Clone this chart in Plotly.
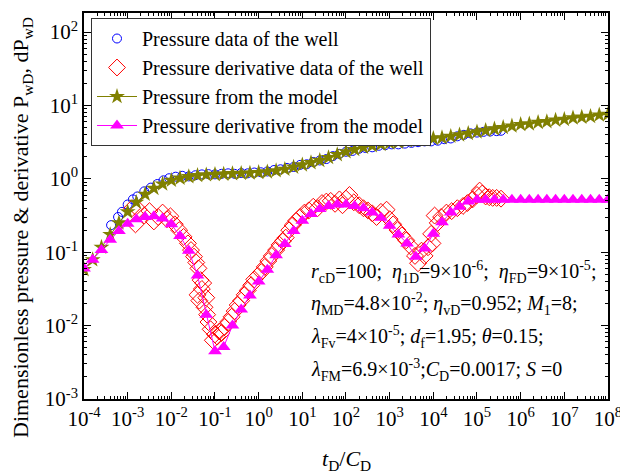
import plotly.graph_objects as go

# ---------------- data ----------------
# Pressure data of the well (blue circles)
t_pw = [4.17e-4, 6.03e-4, 7.41e-4, 1.00e-3, 1.32e-3, 1.66e-3, 2.40e-3, 3.39e-3, 4.79e-3, 6.61e-3,
        8.91e-3, 1.26e-2, 1.78e-2, 2.51e-2, 3.55e-2, 5.01e-2, 7.08e-2, 0.100, 0.141, 0.200,
        0.282, 0.398, 0.562, 0.794, 1.12, 1.58, 2.24, 3.16, 4.47, 6.31,
        8.91, 12.6, 17.8, 25.1, 35.5, 50.1, 70.8, 100, 141, 200,
        282, 398, 562, 794, 1120, 1580, 2240, 3160, 4470, 6310,
        8910, 12600, 17800, 25100, 35500, 50100, 70800, 100000, 141000, 200000,
        282000, 355000]
p_pw = [0.234, 0.302, 0.355, 0.447, 0.525, 0.575, 0.676, 0.759, 0.851, 0.955,
        1.02, 1.07, 1.10, 1.08, 1.12, 1.15, 1.16, 1.15, 1.17, 1.19,
        1.17, 1.20, 1.19, 1.22, 1.23, 1.26, 1.32, 1.35, 1.41, 1.45,
        1.55, 1.58, 1.70, 1.78, 1.86, 2.04, 2.19, 2.34, 2.40, 2.57,
        2.63, 2.69, 2.82, 2.88, 2.95, 2.95, 3.02, 3.09, 3.16, 3.24,
        3.24, 3.31, 3.47, 3.55, 3.80, 3.98, 4.17, 4.27, 4.37, 4.42,
        4.47, 4.52]

# Pressure derivative data of the well (red diamonds)
t_dw = [1.26e-3, 1.51e-3, 1.78e-3, 2.40e-3, 3.16e-3, 3.98e-3, 5.01e-3, 6.31e-3, 7.94e-3, 9.55e-3,
        1.20e-2, 1.51e-2, 1.91e-2, 2.40e-2, 2.82e-2, 3.31e-2, 3.72e-2, 3.98e-2, 4.17e-2, 4.37e-2,
        4.68e-2, 5.01e-2, 5.37e-2, 5.75e-2, 6.31e-2, 6.61e-2, 7.08e-2, 7.94e-2, 8.91e-2, 0.100,
        0.112, 0.126, 0.141, 0.166, 0.200, 0.240, 0.282, 0.331, 0.398, 0.479,
        0.562, 0.676, 0.794, 0.955, 1.15, 1.38, 1.66, 2.00, 2.51, 3.02,
        3.55, 4.17, 5.01, 6.03, 7.24, 8.91, 11.2, 14.1, 17.8, 22.4,
        28.2, 35.5, 44.7, 56.2, 70.8, 83.2, 100, 120, 151, 200,
        251, 316, 398, 501, 631, 851, 1000, 1202, 1514, 1905,
        2399, 3020, 3802, 4467, 5370, 6310, 7586, 8913, 9550, 10700,
        12600, 15100, 20000, 26300, 35500, 47900, 60300, 79400, 100000, 115000,
        132000, 158000, 191000, 229000, 282000, 355000]
d_dw = [0.398, 0.240, 0.380, 0.316, 0.363, 0.263, 0.302, 0.347, 0.282, 0.309,
        0.240, 0.200, 0.162, 0.132, 0.107, 0.0871, 0.0724, 0.0263, 0.0603, 0.0219,
        0.0417, 0.0316, 0.0380, 0.0178, 0.0240, 0.0141, 0.0112, 0.00891, 0.00631, 0.00759,
        0.00708, 0.00832, 0.00794, 0.00955, 0.0112, 0.0132, 0.0158, 0.0191, 0.0219, 0.0263,
        0.0302, 0.0355, 0.0427, 0.0479, 0.0537, 0.0631, 0.0759, 0.0891, 0.107, 0.126,
        0.141, 0.158, 0.200, 0.234, 0.269, 0.302, 0.347, 0.372, 0.417, 0.398,
        0.468, 0.490, 0.501, 0.457, 0.525, 0.437, 0.537, 0.603, 0.479, 0.437,
        0.398, 0.372, 0.339, 0.302, 0.355, 0.380, 0.282, 0.240, 0.200, 0.170,
        0.145, 0.120, 0.0891, 0.0708, 0.105, 0.0891, 0.117, 0.178, 0.132, 0.316,
        0.251, 0.302, 0.347, 0.363, 0.398, 0.427, 0.468, 0.525, 0.603, 0.692,
        0.631, 0.575, 0.562, 0.550, 0.550, 0.537]

# Model time grid
t_model = [1.00e-4, 1.58e-4, 2.51e-4, 3.98e-4, 6.31e-4,
           1.00e-3, 1.58e-3, 2.51e-3, 3.98e-3, 6.31e-3,
           1.00e-2, 1.58e-2, 2.51e-2, 3.98e-2, 6.31e-2,
           1.00e-1, 1.58e-1, 2.51e-1, 3.98e-1, 6.31e-1,
           1.00, 1.58, 2.51, 3.98, 6.31,
           10.0, 15.8, 25.1, 39.8, 63.1,
           100, 158, 251, 398, 631,
           1.00e3, 1.58e3, 2.51e3, 3.98e3, 6.31e3,
           1.00e4, 1.58e4, 2.51e4, 3.98e4, 6.31e4,
           1.00e5, 1.58e5, 2.51e5, 3.98e5, 6.31e5,
           1.00e6, 1.58e6, 2.51e6, 3.98e6, 6.31e6,
           1.00e7, 1.58e7, 2.51e7, 3.98e7, 6.31e7,
           1.00e8]
# Pressure from the model (olive stars)
p_model = [0.058, 0.079, 0.117, 0.174, 0.251,
           0.355, 0.479, 0.617, 0.741, 0.851,
           0.955, 1.02, 1.07, 1.11, 1.135,
           1.15, 1.16, 1.175, 1.19, 1.20,
           1.22, 1.245, 1.29, 1.35, 1.445,
           1.55, 1.66, 1.78, 1.95, 2.14,
           2.34, 2.51, 2.69, 2.82, 2.95,
           3.09, 3.16, 3.31, 3.39, 3.47,
           3.55, 3.63, 3.80, 3.98, 4.17,
           4.37, 4.57, 4.79, 5.01, 5.25,
           5.50, 5.62, 5.89, 6.03, 6.31,
           6.46, 6.76, 6.92, 7.08, 7.41,
           7.59]
# Pressure derivative from the model (magenta triangles)
d_model = [0.060, 0.079, 0.107, 0.148, 0.195,
           0.245, 0.282, 0.302, 0.309, 0.288,
           0.240, 0.166, 0.105, 0.048, 0.0141,
           0.00447, 0.00513, 0.0100, 0.0166, 0.0257,
           0.0398, 0.0575, 0.0912, 0.129, 0.195,
           0.269, 0.331, 0.389, 0.427, 0.447,
           0.447, 0.427, 0.398, 0.347, 0.295,
           0.229, 0.174, 0.132, 0.087, 0.112,
           0.178, 0.257, 0.347, 0.417, 0.490,
           0.520, 0.520, 0.520, 0.520, 0.520,
           0.520, 0.520, 0.520, 0.520, 0.520,
           0.520, 0.520, 0.520, 0.520, 0.520,
           0.520]

x_tick_vals = [1e-4, 1e-3, 1e-2, 1e-1, 1e0, 1e1, 1e2, 1e3, 1e4, 1e5, 1e6, 1e7, 1e8]
x_tick_text = ["10<sup>-4</sup>", "10<sup>-3</sup>", "10<sup>-2</sup>", "10<sup>-1</sup>", "10<sup>0</sup>",
               "10<sup>1</sup>", "10<sup>2</sup>", "10<sup>3</sup>", "10<sup>4</sup>", "10<sup>5</sup>",
               "10<sup>6</sup>", "10<sup>7</sup>", "10<sup>8</sup>"]
y_tick_vals = [1e-3, 1e-2, 1e-1, 1e0, 1e1, 1e2]
y_tick_text = ["10<sup>-3</sup>", "10<sup>-2</sup>", "10<sup>-1</sup>", "10<sup>0</sup>",
               "10<sup>1</sup>", "10<sup>2</sup>"]

param_lines = [
    "<i>r</i><sub>cD</sub>=100;  <i>η</i><sub>1D</sub>=9×10<sup>-6</sup>;  <i>η</i><sub>FD</sub>=9×10<sup>-5</sup>;",
    "<i>η</i><sub>MD</sub>=4.8×10<sup>-2</sup>; <i>η</i><sub>vD</sub>=0.952; <i>M</i><sub>1</sub>=8;",
    "<i>λ</i><sub>Fv</sub>=4×10<sup>-5</sup>; <i>d</i><sub>f</sub>=1.95; <i>θ</i>=0.15;",
    "<i>λ</i><sub>FM</sub>=6.9×10<sup>-3</sup>;<i>C</i><sub>D</sub>=0.0017; <i>S</i> =0",
]

FONT = "Liberation Serif"

# ---------------- figure ----------------
fig = go.Figure()
fig.add_trace(go.Scatter(x=t_pw, y=p_pw, mode="markers", name="Pressure data of the well",
                         marker=dict(symbol="circle-open", size=9, color="#0000ff", line=dict(width=1))))
fig.add_trace(go.Scatter(x=t_dw, y=d_dw, mode="markers", name="Pressure derivative data of the well",
                         marker=dict(symbol="diamond-open", size=13, color="#ff0000", line=dict(width=1))))
fig.add_trace(go.Scatter(x=t_model, y=p_model, mode="lines+markers", name="Pressure from the model",
                         line=dict(color="#808000", width=1),
                         marker=dict(symbol="star", size=12, color="#808000")))
fig.add_trace(go.Scatter(x=t_model, y=d_model, mode="lines+markers", name="Pressure derivative from the model",
                         line=dict(color="#ff00ff", width=1),
                         marker=dict(symbol="triangle-up", size=12, color="#ff00ff")))

W, H = 620, 475
L, R, T, B = 84, 12, 13, 76
pw = W - L - R
ph = H - T - B

def px_x(px):
    return (px - L) / pw

def px_y(py):
    return (H - B - py) / ph

minor_x = [m * 10.0 ** k for k in range(-4, 8) for m in range(2, 10)]
minor_y = [m * 10.0 ** k for k in range(-3, 3) for m in range(2, 10)]

axis_common = dict(
    type="log", showline=True, linecolor="black", linewidth=1.5, mirror="allticks",
    ticks="inside", ticklen=7, tickwidth=1.2, tickcolor="black", showgrid=False, zeroline=False,
    tickfont=dict(family=FONT, size=21, color="black"), automargin=False,
    ticklabeloverflow="allow",
)

fig.update_xaxes(**axis_common, range=[-4, 8.0005], tickmode="array", tickvals=x_tick_vals, ticktext=x_tick_text,
                 minor=dict(ticks="inside", ticklen=3.5, tickwidth=1, tickcolor="black",
                            tickmode="array", tickvals=minor_x))
fig.update_yaxes(**axis_common, range=[-3, 2.26], tickmode="array", tickvals=y_tick_vals, ticktext=y_tick_text,
                 minor=dict(ticks="inside", ticklen=3.5, tickwidth=1, tickcolor="black",
                            tickmode="array", tickvals=minor_y))

annotations = []
line_y = [272, 304, 337, 370]
for txt, yy in zip(param_lines, line_y):
    annotations.append(dict(text=txt, xref="paper", yref="paper", x=px_x(309), y=px_y(yy),
                            xanchor="left", yanchor="middle", showarrow=False,
                            font=dict(family=FONT, size=20, color="black")))
annotations.append(dict(text="Dimensionless pressure & derivative P<sub>wD</sub>, dP<sub>wD</sub>",
                        xref="paper", yref="paper", x=px_x(22), y=px_y(228), textangle=-90,
                        xanchor="center", yanchor="middle", showarrow=False,
                        font=dict(family=FONT, size=22, color="black")))
annotations.append(dict(text="<i>t</i><sub>D</sub>/<i>C</i><sub>D</sub>",
                        xref="paper", yref="paper", x=px_x(346), y=px_y(460),
                        xanchor="center", yanchor="middle", showarrow=False,
                        font=dict(family=FONT, size=22, color="black")))

fig.update_layout(
    width=W, height=H, margin=dict(l=L, r=R, t=T, b=B),
    paper_bgcolor="white", plot_bgcolor="white",
    font=dict(family=FONT, size=20, color="black"),
    showlegend=True,
    legend=dict(x=px_x(91), y=px_y(18), xanchor="left", yanchor="top",
                bgcolor="white", bordercolor="#333333", borderwidth=1, itemwidth=40,
                font=dict(family=FONT, size=20, color="black"), tracegroupgap=0),
    annotations=annotations,
)

fig.write_html("out.html")
